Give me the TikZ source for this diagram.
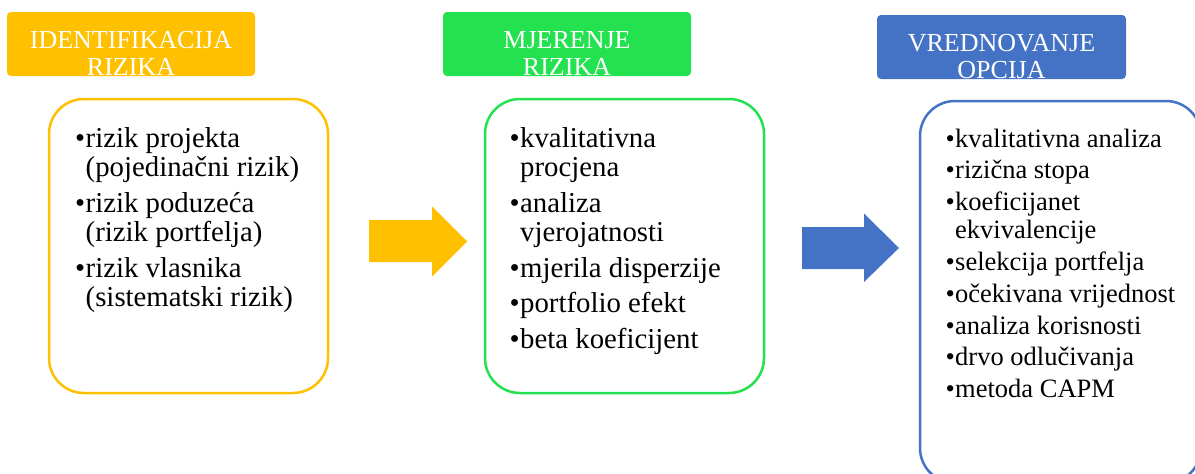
\documentclass[tikz,border=0pt]{standalone}
\usepackage{fontspec}
\setmainfont{Liberation Serif}
\definecolor{cy}{HTML}{FFC000}
\definecolor{cg}{HTML}{24E150}
\definecolor{cb}{HTML}{4472C4}
\newlength\bw
\newcommand\bitem[1]{\par\hangindent=\bw\hangafter=1\noindent\makebox[\bw][l]{\textbullet}#1}
\newcommand\gapp[1]{\par\vspace{#1}}
\begin{document}
\begin{tikzpicture}[x=1pt,y=-1pt,
  hdr/.style={rectangle, rounded corners=4pt, draw=none, inner sep=0pt, outer sep=0pt, anchor=north west},
  hdrtext/.style={text=white, inner sep=0pt, anchor=base, font=\fontsize{26}{27}\selectfont},
  panel/.style={rectangle, rounded corners=35pt, line width=2.5pt, fill=white, inner sep=0pt, outer sep=0pt, anchor=north west},
  listtext/.style={inner sep=0pt, anchor=base west},
  blockarrow/.style={draw=none}
  ]
\useasboundingbox (0,0) rectangle (1195,474);
% headers
\node[hdr, fill=cy, minimum width=248pt, minimum height=64pt] (hy) at (7,12) {};
\node[hdr, fill=cg, minimum width=248pt, minimum height=64pt] (hg) at (443,12) {};
\node[hdr, fill=cb, minimum width=249pt, minimum height=64pt] (hb) at (877,15) {};
\node[hdrtext] (hyt) at (131,48) {\parbox[t]{240pt}{\centering IDENTIFIKACIJA\\RIZIKA}};
\node[hdrtext] (hgt) at (567,48) {\parbox[t]{240pt}{\centering MJERENJE\\RIZIKA}};
\node[hdrtext] (hbt) at (1001.5,51) {\parbox[t]{240pt}{\centering VREDNOVANJE\\OPCIJA}};
% panels
\node[panel, draw=cy, minimum width=279pt, minimum height=294pt] (py) at (49,99) {};
\node[panel, draw=cg, minimum width=279pt, minimum height=294pt] (pg) at (485,99) {};
\node[panel, draw=cb, minimum width=281pt, minimum height=382pt] (pb) at (920,101) {};
% lists
\node[listtext, font=\fontsize{28.8}{29.5}\selectfont] (ly) at (75,147) {\parbox[t]{250pt}{\setlength\bw{10.5pt}%
\bitem{rizik projekta\\(pojedinačni rizik)}\gapp{6pt}%
\bitem{rizik poduzeća\\(rizik portfelja)}\gapp{6pt}%
\bitem{rizik vlasnika\\(sistematski rizik)}}};
\node[listtext, font=\fontsize{28.8}{29.5}\selectfont] (lg) at (509.5,147) {\parbox[t]{250pt}{\setlength\bw{10.5pt}%
\bitem{kvalitativna\\procjena}\gapp{6pt}%
\bitem{analiza\\vjerojatnosti}\gapp{6pt}%
\bitem{mjerila disperzije}\gapp{6pt}%
\bitem{portfolio efekt}\gapp{6pt}%
\bitem{beta koeficijent}}};
\node[listtext, font=\fontsize{26.5}{28}\selectfont] (lb) at (945.5,147) {\parbox[t]{250pt}{\setlength\bw{9.5pt}%
\bitem{kvalitativna analiza}\gapp{3.8pt}%
\bitem{rizična stopa}\gapp{3.8pt}%
\bitem{koeficijanet\\ekvivalencije}\gapp{3.8pt}%
\bitem{selekcija portfelja}\gapp{3.8pt}%
\bitem{očekivana vrijednost}\gapp{3.8pt}%
\bitem{analiza korisnosti}\gapp{3.8pt}%
\bitem{drvo odlučivanja}\gapp{3.8pt}%
\bitem{metoda CAPM}}};
% block arrows
\fill[cy, blockarrow] (369,220) -- (432,220) -- (432,206.5) -- (467,241.5) -- (432,276.5) -- (432,262) -- (369,262) -- cycle;
\fill[cb, blockarrow] (802,227) -- (864,227) -- (864,213.5) -- (899,248) -- (864,282) -- (864,269) -- (802,269) -- cycle;
\end{tikzpicture}
\end{document}
